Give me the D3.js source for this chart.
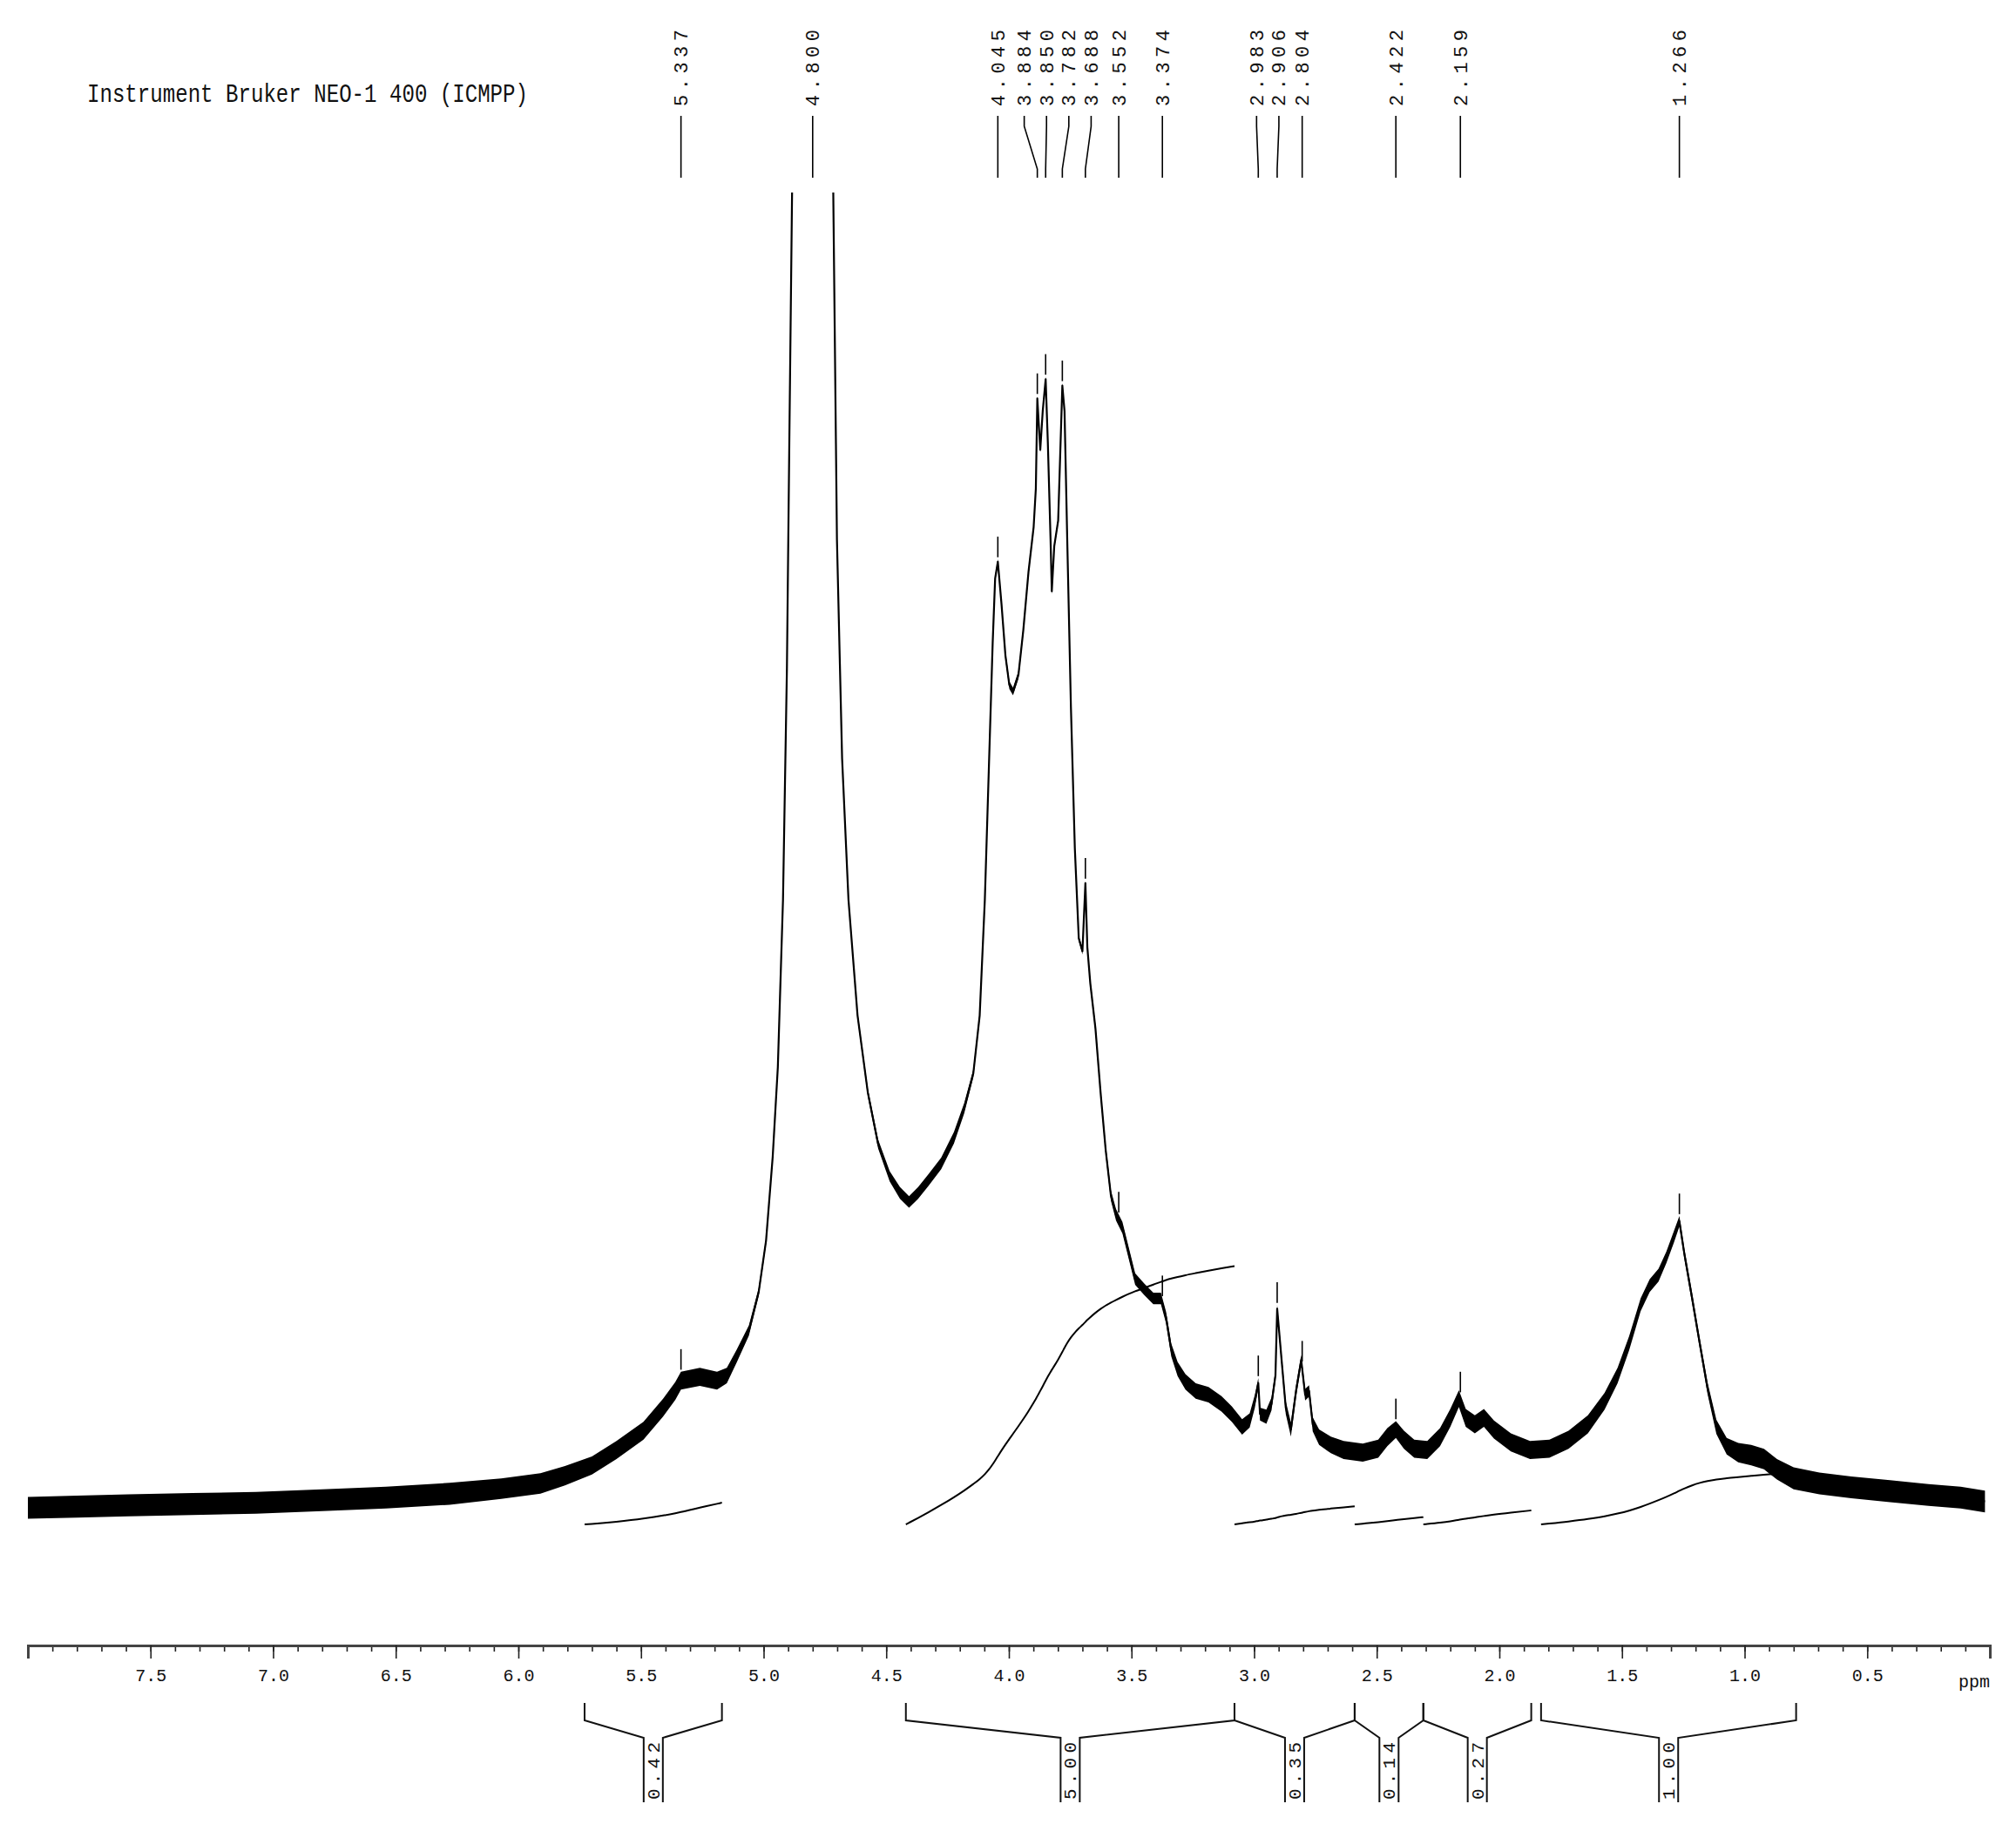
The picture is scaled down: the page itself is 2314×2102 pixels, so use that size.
<!DOCTYPE html>
<html>
<head>
<meta charset="utf-8">
<script src="https://cdn.jsdelivr.net/npm/d3@7"></script>
<style>
  html, body { margin: 0; padding: 0; background: #ffffff; }
  svg { display: block; }
</style>
</head>
<body>
<script>
// ---------------- DATA ----------------
const instrumentLabel = "Instrument Bruker NEO-1 400 (ICMPP)";

// spectrum: [ppm, intensity (relative), apparent noise half-width]
const spectrum = [
  [8.00,-0.1,0.85],[7.80,0.0,0.85],[7.59,0.1,0.85],[7.33,0.2,0.85],[7.07,0.3,0.85],
  [6.80,0.5,0.85],[6.54,0.7,0.85],[6.28,1.0,0.85],[6.07,1.4,0.8],[5.91,1.8,0.8],
  [5.81,2.4,0.75],[5.70,3.2,0.7],[5.60,4.4,0.7],[5.49,5.9,0.7],[5.41,7.7,0.7],
  [5.36,9.0,0.7],[5.337,9.8,0.7],[5.26,10.1,0.7],[5.19,9.8,0.7],[5.15,10.2,0.6],
  [5.11,11.7,0.5],[5.06,13.7,0.4],[5.02,16.7,0.3],[4.99,20.7,0.25],[4.963,27.2,0.2],
  [4.942,34.2,0.2],[4.921,47.2,0.2],[4.905,65.2,0.2],[4.895,83.2,0.2],[4.884,102.2,0.2],
  [4.800,300,0.2],
  [4.716,102.2,0.2],[4.701,75.2,0.2],[4.680,58.2,0.2],[4.654,47.2,0.2],[4.617,38.2,0.25],
  [4.575,32.2,0.3],[4.533,28.2,0.35],[4.486,25.7,0.4],[4.444,24.4,0.45],[4.407,23.7,0.45],
  [4.370,24.4,0.45],[4.328,25.4,0.45],[4.276,26.7,0.45],[4.224,28.7,0.45],[4.182,31.0,0.4],
  [4.145,33.7,0.3],[4.119,38.2,0.25],[4.098,47.2,0.2],[4.082,57.2,0.2],[4.066,67.2,0.2],
  [4.056,72.2,0.2],[4.045,73.5,0.2],[4.030,70.2,0.25],[4.014,66.2,0.3],[3.998,63.9,0.3],
  [3.983,63.4,0.3],[3.961,64.7,0.3],[3.941,68.2,0.25],[3.920,72.7,0.25],[3.899,76.2,0.2],
  [3.890,79.2,0.2],[3.884,86.2,0.2],[3.872,82.2,0.2],[3.862,85.2,0.2],[3.850,87.7,0.2],
  [3.841,82.7,0.2],[3.830,75.2,0.2],[3.825,71.2,0.25],[3.815,74.7,0.2],[3.799,76.7,0.2],
  [3.782,87.2,0.2],[3.773,85.2,0.2],[3.762,75.2,0.2],[3.747,62.2,0.2],[3.731,51.2,0.2],
  [3.715,44.2,0.2],[3.700,43.2,0.25],[3.688,48.5,0.2],[3.680,43.5,0.25],[3.668,40.7,0.25],
  [3.647,37.2,0.3],[3.626,32.2,0.3],[3.605,27.7,0.35],[3.584,24.2,0.4],[3.563,22.7,0.45],
  [3.537,21.7,0.45],[3.511,19.7,0.45],[3.485,17.7,0.45],[3.448,16.9,0.45],[3.411,16.2,0.45],
  [3.380,16.2,0.45],[3.359,14.7,0.45],[3.338,12.2,0.5],[3.312,10.7,0.55],[3.280,9.7,0.6],
  [3.238,9.0,0.6],[3.186,8.7,0.6],[3.133,8.0,0.6],[3.091,7.2,0.6],[3.049,6.2,0.6],
  [3.018,6.7,0.55],[2.997,8.2,0.5],[2.983,9.6,0.4],[2.976,7.2,0.5],[2.950,7.0,0.55],
  [2.929,8.0,0.5],[2.913,10.2,0.4],[2.906,15.4,0.3],[2.887,11.2,0.4],[2.871,7.7,0.5],
  [2.850,6.0,0.55],[2.829,9.0,0.45],[2.808,11.4,0.4],[2.792,8.7,0.45],[2.776,9.0,0.45],
  [2.761,6.4,0.55],[2.735,5.4,0.6],[2.687,4.8,0.65],[2.635,4.4,0.7],[2.557,4.2,0.7],
  [2.494,4.5,0.7],[2.457,5.4,0.7],[2.422,6.0,0.65],[2.389,5.2,0.7],[2.347,4.5,0.7],
  [2.294,4.4,0.7],[2.242,5.4,0.7],[2.200,6.9,0.7],[2.165,8.4,0.65],[2.137,6.9,0.7],
  [2.100,6.4,0.7],[2.063,6.9,0.7],[2.022,6.0,0.7],[1.953,5.0,0.7],[1.875,4.4,0.7],
  [1.796,4.5,0.7],[1.718,5.2,0.7],[1.639,6.4,0.7],[1.571,8.2,0.65],[1.518,10.2,0.6],
  [1.471,12.7,0.55],[1.424,15.7,0.5],[1.387,17.2,0.5],[1.351,18.0,0.5],[1.319,19.4,0.45],
  [1.288,21.0,0.45],[1.266,22.2,0.4],[1.246,19.7,0.4],[1.214,16.2,0.4],[1.183,12.7,0.4],
  [1.151,9.2,0.45],[1.115,6.2,0.55],[1.073,4.7,0.65],[1.026,4.2,0.75],[0.973,4.0,0.8],
  [0.921,3.7,0.8],[0.868,2.9,0.8],[0.800,2.2,0.85],[0.695,1.8,0.85],[0.565,1.5,0.85],
  [0.407,1.2,0.85],[0.250,0.9,0.85],[0.119,0.7,0.85],[0.020,0.4,0.85]
];

const peakLabels = [5.337, 4.800, 4.045, 3.884, 3.850, 3.782, 3.688, 3.552, 3.374,
                    2.983, 2.906, 2.804, 2.422, 2.159, 1.266];

// integral regions [from ppm, to ppm] and their printed values
const integralRanges = [[5.73,5.17],[4.42,3.08],[3.08,2.59],[2.59,2.31],[2.31,1.87],[1.83,0.79]];
const integralValues = ["0.42","5.00","0.35","0.14","0.27","1.00"];

const majorTicks = [7.5,7.0,6.5,6.0,5.5,5.0,4.5,4.0,3.5,3.0,2.5,2.0,1.5,1.0,0.5];
const axisUnit = "ppm";

// ---------------- LAYOUT ----------------
const W = 2314, H = 2102;
const svg = d3.select("body").append("svg").attr("width", W).attr("height", H);
svg.append("rect").attr("width", W).attr("height", H).attr("fill", "#fff");

const x = d3.scaleLinear().domain([8, 0]).range([32, 2284]);
const y = d3.scaleLinear().domain([0, 100]).range([1729.6, 253.8]);
const plotTop = 221;
const axisY = 1889;

svg.append("defs").append("clipPath").attr("id", "plotclip")
  .append("rect").attr("x", 0).attr("y", plotTop).attr("width", W).attr("height", axisY - plotTop);

// title
svg.append("text")
  .attr("x", 100).attr("y", 117)
  .attr("font-family", "'Liberation Mono', 'DejaVu Sans Mono', monospace")
  .attr("font-size", 29)
  .attr("textLength", 506).attr("lengthAdjust", "spacingAndGlyphs")
  .attr("fill", "#111")
  .text(instrumentLabel);

// spectrum
const g = svg.append("g").attr("clip-path", "url(#plotclip)");
g.append("path").datum(spectrum)
  .attr("d", d3.area().x(d => x(d[0])).y0(d => y(d[1] - d[2])).y1(d => y(d[1] + d[2])))
  .attr("fill", "#000");
g.append("path").datum(spectrum)
  .attr("d", d3.line().x(d => x(d[0])).y(d => y(d[1])))
  .attr("fill", "none").attr("stroke", "#000").attr("stroke-width", 2.2).attr("stroke-linejoin", "round");

// interpolation helper over spectrum (ppm descending)
function specAt(p) {
  for (let i = 0; i < spectrum.length - 1; i++) {
    const a = spectrum[i], b = spectrum[i + 1];
    if (p <= a[0] && p >= b[0]) {
      const t = (a[0] - p) / (a[0] - b[0]);
      return [a[1] + t * (b[1] - a[1]), a[2] + t * (b[2] - a[2])];
    }
  }
  return [0, 0.7];
}

// small peak-pick markers just above the trace
peakLabels.forEach(p => {
  const [v, w] = specAt(p);
  const top = v + w + 0.15;
  if (top > 100) return;
  g.append("line")
    .attr("x1", x(p)).attr("x2", x(p))
    .attr("y1", y(top)).attr("y2", y(top + 1.6))
    .attr("stroke", "#000").attr("stroke-width", 1.6);
});

// integral curves (cumulative integral of the spectrum over each region)
const intBaseY = 1750, pxPerUnit = 59.3;
integralRanges.forEach((r, i) => {
  const [a, b] = r;
  const pts = [[a, specAt(a)[0]]];
  spectrum.forEach(d => { if (d[0] < a && d[0] > b) pts.push([d[0], d[1]]); });
  pts.push([b, specAt(b)[0]]);
  let c = 0;
  const cum = [[pts[0][0], 0]];
  for (let k = 1; k < pts.length; k++) {
    c += (pts[k - 1][0] - pts[k][0]) * (Math.max(pts[k - 1][1], 0) + Math.max(pts[k][1], 0)) / 2;
    cum.push([pts[k][0], c]);
  }
  const total = c;
  const h = +integralValues[i] * pxPerUnit;
  svg.append("path").datum(cum)
    .attr("d", d3.line().x(d => x(d[0])).y(d => intBaseY - d[1] / total * h).curve(d3.curveMonotoneX))
    .attr("fill", "none").attr("stroke", "#000").attr("stroke-width", 2);
});

// peak labels at top (spread to avoid overlap)
const minGap = 25.6;
let groups = peakLabels.map(p => ({ peaks: [x(p)], pos: [x(p)] }));
let changed = true;
function layout(gr) {
  const n = gr.peaks.length;
  const mean = d3.mean(gr.peaks);
  gr.pos = gr.peaks.map((_, k) => mean + (k - (n - 1) / 2) * minGap);
}
while (changed) {
  changed = false;
  for (let i = 0; i < groups.length - 1; i++) {
    const A = groups[i], B = groups[i + 1];
    if (B.pos[0] - A.pos[A.pos.length - 1] < minGap - 0.01) {
      const M = { peaks: A.peaks.concat(B.peaks), pos: [] };
      layout(M);
      groups.splice(i, 2, M);
      changed = true;
      break;
    }
  }
}
const labelX = [].concat(...groups.map(gr => gr.pos));

const lab = svg.append("g");
peakLabels.forEach((p, i) => {
  const lx = labelX[i], px = x(p);
  lab.append("path")
    .attr("d", `M${lx},133 V145 L${px},194 V204`)
    .attr("fill", "none").attr("stroke", "#000").attr("stroke-width", 1.6);
  lab.append("text")
    .attr("transform", `translate(${lx + 7.5},122) rotate(-90)`)
    .attr("font-family", "'Liberation Mono', 'DejaVu Sans Mono', monospace")
    .attr("font-size", 22)
    .attr("textLength", 88).attr("lengthAdjust", "spacing")
    .attr("fill", "#111")
    .text(p.toFixed(3));
});

// axis
const axG = svg.append("g").attr("transform", `translate(0,${axisY})`);
const minorAxis = d3.axisBottom(x).tickValues(d3.range(81).map(i => i / 10)).tickSize(7).tickFormat("");
const majorAxis = d3.axisBottom(x).tickValues(majorTicks).tickSize(15).tickSizeOuter(15)
  .tickPadding(12).tickFormat(d3.format(".1f"));
const gMinor = axG.append("g").call(minorAxis);
gMinor.select(".domain").remove();
const gMajor = axG.append("g").call(majorAxis);
axG.selectAll(".tick line").attr("stroke", "#222").attr("stroke-width", 1.6);
gMajor.select(".domain").attr("stroke", "#444").attr("stroke-width", 3);
gMajor.selectAll(".tick text")
  .attr("font-family", "'Liberation Mono', 'DejaVu Sans Mono', monospace")
  .attr("font-size", 20).attr("fill", "#111");
axG.append("text")
  .attr("x", 2284).attr("y", 34)
  .attr("dy", "0.71em")
  .attr("text-anchor", "end")
  .attr("font-family", "'Liberation Mono', 'DejaVu Sans Mono', monospace")
  .attr("font-size", 20).attr("fill", "#111")
  .text(axisUnit);

// integral brackets below axis
const br = svg.append("g");
const yEndTop = 1955, yKnee = 1975, yBoxTop = 1995, yBoxBot = 2069, halfBox = 11;
integralRanges.forEach((r, i) => {
  const xa = x(r[0]), xb = x(r[1]);
  const cx = (xa + xb) / 2;
  br.append("path")
    .attr("d", `M${xa},${yEndTop} V${yKnee} L${cx - halfBox},${yBoxTop} V${yBoxBot}` +
               ` M${xb},${yEndTop} V${yKnee} L${cx + halfBox},${yBoxTop} V${yBoxBot}`)
    .attr("fill", "none").attr("stroke", "#111").attr("stroke-width", 2);
  br.append("text")
    .attr("transform", `translate(${cx + 7},${yBoxBot - 3}) rotate(-90)`)
    .attr("font-family", "'Liberation Mono', 'DejaVu Sans Mono', monospace")
    .attr("font-size", 21)
    .attr("textLength", 66).attr("lengthAdjust", "spacing")
    .attr("fill", "#111")
    .text(integralValues[i]);
});
</script>
</body>
</html>
